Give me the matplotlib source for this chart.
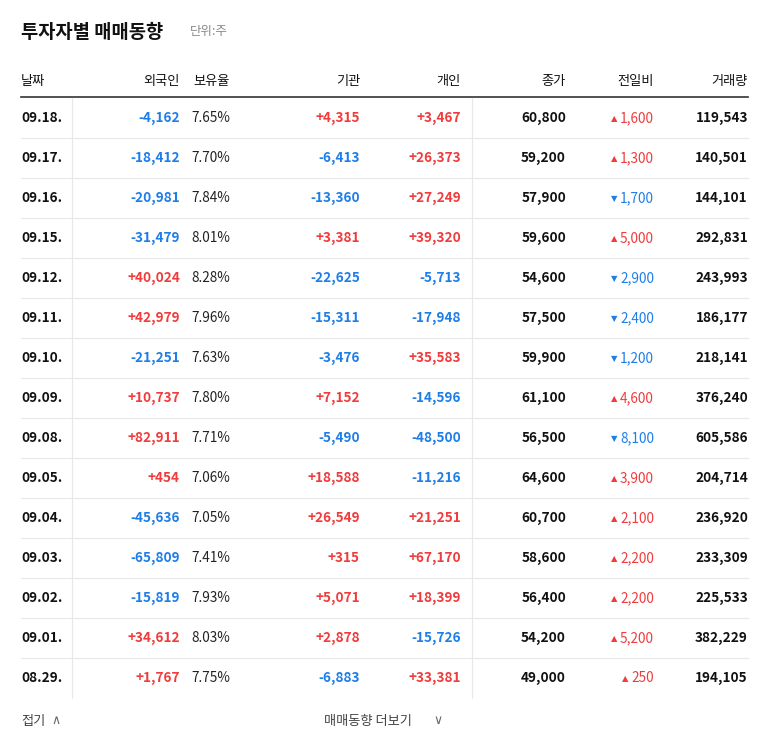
import matplotlib
matplotlib.use("Agg")
import matplotlib.pyplot as plt

FAM = ["Noto Sans CJK KR", "Noto Sans CJK JP", "Noto Sans CJK SC", "Noto Sans CJK TC", "DejaVu Sans"]
plt.rcParams["font.family"] = FAM

dates = ["09.18.", "09.17.", "09.16.", "09.15.", "09.12.", "09.11.", "09.10.", "09.09.",
         "09.08.", "09.05.", "09.04.", "09.03.", "09.02.", "09.01.", "08.29."]
foreign = [-4162, -18412, -20981, -31479, 40024, 42979, -21251, 10737,
           82911, 454, -45636, -65809, -15819, 34612, 1767]
ratio = ["7.65%", "7.70%", "7.84%", "8.01%", "8.28%", "7.96%", "7.63%", "7.80%",
         "7.71%", "7.06%", "7.05%", "7.41%", "7.93%", "8.03%", "7.75%"]
inst = [4315, -6413, -13360, 3381, -22625, -15311, -3476, 7152,
        -5490, 18588, 26549, 315, 5071, 2878, -6883]
indiv = [3467, 26373, 27249, 39320, -5713, -17948, 35583, -14596,
         -48500, -11216, 21251, 67170, 18399, -15726, 33381]
close = [60800, 59200, 57900, 59600, 54600, 57500, 59900, 61100,
         56500, 64600, 60700, 58600, 56400, 54200, 49000]
change = [1600, 1300, -1700, 5000, -2900, -2400, -1200, 4600,
          -8100, 3900, 2100, 2200, 2200, 5200, 250]
volume = [119543, 140501, 144101, 292831, 243993, 186177, 218141, 376240,
          605586, 204714, 236920, 233309, 225533, 382229, 194105]
headers = ["날짜", "외국인", "보유율", "기관", "개인", "종가", "전일비", "거래량"]

RED = "#f03c3c"
BLUE = "#1e7ee8"
DARK = "#111111"
FS = 9.8

fig = plt.figure(figsize=(7.68, 7.49), dpi=100)
ax = fig.add_axes([0, 0, 1, 1])
ax.set_xlim(0, 768)
ax.set_ylim(749, 0)
ax.axis("off")

ax.text(21, 32, "투자자별 매매동향", fontsize=13.5, fontweight="bold", color=DARK, va="center")
ax.text(190, 32, "단위:주", fontsize=9, color="#888888", va="center")

hx = [21, 180, 230, 360, 461, 566, 654, 748]
ha = ["left"] + ["right"] * 7
for h, x, a in zip(headers, hx, ha):
    ax.text(x, 81, h, fontsize=9.5, color=DARK, ha=a, va="center")
ax.plot([21, 748], [97, 97], color="#333333", lw=1.2)

def sgn(v):
    return f"+{v:,}" if v > 0 else f"-{abs(v):,}"

def col(v):
    return RED if v > 0 else BLUE

fig.canvas.draw()
renderer = fig.canvas.get_renderer()

row_h = 40
y0 = 118
for i in range(len(dates)):
    y = y0 + i * row_h
    ax.text(21, y, dates[i], fontsize=FS, fontweight="bold", color=DARK, va="center")
    ax.text(180, y, sgn(foreign[i]), fontsize=FS, fontweight="bold", color=col(foreign[i]), ha="right", va="center")
    ax.text(230, y, ratio[i], fontsize=FS, color="#222222", ha="right", va="center")
    ax.text(360, y, sgn(inst[i]), fontsize=FS, fontweight="bold", color=col(inst[i]), ha="right", va="center")
    ax.text(461, y, sgn(indiv[i]), fontsize=FS, fontweight="bold", color=col(indiv[i]), ha="right", va="center")
    ax.text(566, y, f"{close[i]:,}", fontsize=FS, fontweight="bold", color=DARK, ha="right", va="center")
    c = change[i]
    t = ax.text(654, y, f"{abs(c):,}", fontsize=FS, color=col(c), ha="right", va="center")
    w = t.get_window_extent(renderer).width
    ax.text(654 - w - 3, y + 0.5, "▲" if c > 0 else "▼", fontsize=6, color=col(c),
            ha="right", va="center", family="DejaVu Sans")
    ax.text(748, y, f"{volume[i]:,}", fontsize=FS, fontweight="bold", color=DARK, ha="right", va="center")
    if i < len(dates) - 1:
        ax.plot([21, 748], [y + 20, y + 20], color="#e8e8e8", lw=0.8)

for x in (72, 472):
    ax.plot([x, x], [98, 698], color="#e8e8e8", lw=0.8)

ax.text(21, 721, "접기", fontsize=9.5, color="#444444", va="center")
ax.text(51, 720, "∧", fontsize=9, color="#666666", va="center", family="DejaVu Sans")
ax.text(324, 721, "매매동향 더보기", fontsize=9.5, color="#444444", va="center")
ax.text(433, 720, "∨", fontsize=9, color="#666666", va="center", family="DejaVu Sans")

fig.savefig("out.png", dpi=100)
